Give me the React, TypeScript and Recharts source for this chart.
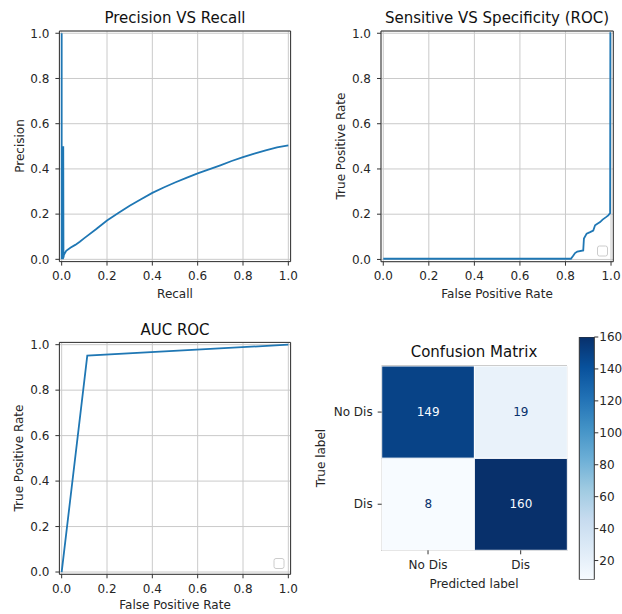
import React from "react";
import {
  LineChart,
  Line,
  XAxis,
  YAxis,
  CartesianGrid,
  ReferenceArea,
  BarChart,
  Bar,
  Cell,
  LabelList,
} from "recharts";

const FONT = "'DejaVu Sans', sans-serif";
const BLUE = "#1f77b4";
const TEXT = "#262626";
const SPINE = "#333333";
const GRID = "#cacaca";

const unitTicks = [0, 0.2, 0.4, 0.6, 0.8, 1.0];

// precision vs recall (spike near recall=0, then the rising curve)
const prRecall = [
  0, 0, 0.001, 0.002, 0.003, 0.004, 0.005, 0.006, 0.007, 0.008, 0.01, 0.02, 0.04, 0.06, 0.08, 0.1, 0.15, 0.2, 0.25,
  0.3, 0.35, 0.4, 0.45, 0.5, 0.55, 0.6, 0.65, 0.7, 0.75, 0.8, 0.85, 0.9, 0.95, 1.0,
];
const prPrecision = [
  1.0, 0.0, 0.5, 0.0, 0.5, 0.0, 0.5, 0.0, 0.5, 0.008, 0.02, 0.038, 0.052, 0.064, 0.078, 0.094, 0.132, 0.172, 0.205,
  0.237, 0.266, 0.294, 0.318, 0.34, 0.36, 0.38, 0.398, 0.416, 0.435, 0.452, 0.468, 0.482, 0.495, 0.504,
];

// sensitivity vs specificity
const rocFpr = [
  0, 0.824, 0.833, 0.842, 0.852, 0.878, 0.881, 0.893, 0.908, 0.922, 0.93, 0.94, 0.952, 0.963, 0.978, 0.988, 0.996,
  0.997, 1.0,
];
const rocTpr = [
  0.003, 0.003, 0.015, 0.028, 0.035, 0.04, 0.092, 0.114, 0.121, 0.128, 0.151, 0.158, 0.165, 0.176, 0.187, 0.195,
  0.205, 1.0, 1.0,
];

// auc roc
const aucFpr = [0, 0.113, 1.0];
const aucTpr = [0, 0.952, 1.0];

// confusion matrix
const cmLabels = ["No Dis", "Dis"];
const cmValues = [
  [149, 19],
  [8, 160],
];
const cbarTicks = [20, 40, 60, 80, 100, 120, 140, 160];

const cmMin = Math.min(...cmValues.flat());
const cmMax = Math.max(...cmValues.flat());

// matplotlib "Blues"
const bluesStops = ["#f7fbff", "#deebf7", "#c6dbef", "#9ecae1", "#6baed6", "#4292c6", "#2171b5", "#08519c", "#08306b"];

function hexToRgb(h: string) {
  return [parseInt(h.slice(1, 3), 16), parseInt(h.slice(3, 5), 16), parseInt(h.slice(5, 7), 16)];
}

function blues(t: number) {
  const c = Math.max(0, Math.min(1, t)) * (bluesStops.length - 1);
  const i = Math.min(Math.floor(c), bluesStops.length - 2);
  const f = c - i;
  const a = hexToRgb(bluesStops[i]);
  const b = hexToRgb(bluesStops[i + 1]);
  const rgb = a.map((v, k) => Math.round(v + (b[k] - v) * f));
  return `rgb(${rgb[0]},${rgb[1]},${rgb[2]})`;
}

const cmColor = (v: number) => blues((v - cmMin) / (cmMax - cmMin));
const cmTextColor = (v: number) => (v > (cmMin + cmMax) / 2 ? bluesStops[0] : bluesStops[bluesStops.length - 1]);

const zip = (xs: number[], ys: number[]) => xs.map((x, i) => ({ x, y: ys[i] }));

const tickStyle = { fill: TEXT, fontSize: 12, fontFamily: FONT };

function CurvePanel(props: {
  data: { x: number; y: number }[];
  left: number;
  top: number;
  margin: { top: number; right: number; bottom: number; left: number };
}) {
  return (
    <div style={{ position: "absolute", left: props.left, top: props.top }}>
      <LineChart width={311} height={307} data={props.data} margin={props.margin}>
        <CartesianGrid stroke={GRID} strokeWidth={1} />
        <XAxis
          type="number"
          dataKey="x"
          domain={[-0.01, 1.01]}
          ticks={unitTicks}
          interval={0}
          allowDataOverflow
          tickFormatter={(v) => Number(v).toFixed(1)}
          axisLine={false}
          tickLine={{ stroke: SPINE }}
          tickSize={4}
          tickMargin={6}
          height={30}
          tick={tickStyle}
        />
        <YAxis
          type="number"
          domain={[-0.01, 1.01]}
          ticks={unitTicks}
          interval={0}
          allowDataOverflow
          tickFormatter={(v) => Number(v).toFixed(1)}
          axisLine={false}
          tickLine={{ stroke: SPINE }}
          tickSize={4}
          tickMargin={6}
          width={40}
          tick={tickStyle}
        />
        <Line
          type="linear"
          dataKey="y"
          stroke={BLUE}
          strokeWidth={1.8}
          dot={false}
          activeDot={false}
          isAnimationActive={false}
        />
        <ReferenceArea
          x1={-0.01}
          x2={1.01}
          y1={-0.01}
          y2={1.01}
          ifOverflow="visible"
          fill="none"
          fillOpacity={0}
          stroke={SPINE}
          strokeWidth={1}
        />
      </LineChart>
    </div>
  );
}

function ConfusionPanel() {
  const data = cmLabels.map((col, j) => ({
    col,
    dis: 1,
    noDis: 1,
    vDis: cmValues[1][j],
    vNoDis: cmValues[0][j],
  }));
  const cellText = (p: any) => (
    <text
      x={p.x + p.width / 2}
      y={p.y + p.height / 2}
      textAnchor="middle"
      dominantBaseline="central"
      fill={cmTextColor(p.value)}
      fontSize={12}
      fontFamily={FONT}
    >
      {p.value}
    </text>
  );
  return (
    <div style={{ position: "absolute", left: 311, top: 307 }}>
      <BarChart
        width={311}
        height={307}
        data={data}
        margin={{ top: 59, right: 55, bottom: 33.7, left: 0.7 }}
        barCategoryGap={0}
        barGap={0}
      >
        <XAxis
          dataKey="col"
          type="category"
          axisLine={false}
          tickLine={{ stroke: SPINE }}
          tickSize={4}
          tickMargin={6}
          height={30}
          tick={tickStyle}
          interval={0}
        />
        <YAxis
          type="number"
          domain={[0, 2]}
          ticks={[0.5, 1.5]}
          interval={0}
          tickFormatter={(v) => (v < 1 ? cmLabels[1] : cmLabels[0])}
          axisLine={false}
          tickLine={{ stroke: SPINE }}
          tickSize={4}
          tickMargin={5}
          width={70}
          tick={tickStyle}
        />
        <Bar dataKey="dis" stackId="cm" stroke="#ffffff" strokeWidth={1} isAnimationActive={false}>
          {data.map((d, i) => (
            <Cell key={i} fill={cmColor(d.vDis)} />
          ))}
          <LabelList dataKey="vDis" content={cellText} />
        </Bar>
        <Bar dataKey="noDis" stackId="cm" stroke="#ffffff" strokeWidth={1} isAnimationActive={false}>
          {data.map((d, i) => (
            <Cell key={i} fill={cmColor(d.vNoDis)} />
          ))}
          <LabelList dataKey="vNoDis" content={cellText} />
        </Bar>
        <ReferenceArea
          x1={cmLabels[0]}
          x2={cmLabels[1]}
          y1={0}
          y2={2}
          ifOverflow="visible"
          fill="none"
          fillOpacity={0}
          stroke={SPINE}
          strokeWidth={1}
        />
      </BarChart>
    </div>
  );
}

function ColorbarPanel() {
  const data = [{ name: "cbar", range: [cmMin, cmMax] }];
  return (
    <div style={{ position: "absolute", left: 570, top: 330 }}>
      <BarChart
        width={52}
        height={260}
        data={data}
        margin={{ top: 7, right: 0.7, bottom: 10.3, left: 9.3 }}
        barCategoryGap={0}
      >
        <defs>
          <linearGradient id="bluesGrad" x1="0" y1="1" x2="0" y2="0">
            {bluesStops.map((c, i) => (
              <stop key={i} offset={`${(i / (bluesStops.length - 1)) * 100}%`} stopColor={c} />
            ))}
          </linearGradient>
        </defs>
        <XAxis type="category" dataKey="name" hide />
        <YAxis
          orientation="right"
          type="number"
          domain={[cmMin, cmMax]}
          ticks={cbarTicks}
          interval={0}
          allowDataOverflow
          axisLine={false}
          tickLine={{ stroke: SPINE }}
          tickSize={4}
          tickMargin={1}
          width={27}
          tick={tickStyle}
        />
        <Bar dataKey="range" fill="url(#bluesGrad)" stroke={SPINE} strokeWidth={1} isAnimationActive={false} />
      </BarChart>
    </div>
  );
}

export default function App() {
  const title = { fontSize: 15, fontFamily: FONT, fill: "#111", textAnchor: "middle" as const };
  const label = { fontSize: 12, fontFamily: FONT, fill: TEXT, textAnchor: "middle" as const };
  return (
    <div
      style={{
        position: "fixed",
        left: 0,
        top: 0,
        width: 622,
        height: 614,
        background: "#ffffff",
        overflow: "hidden",
      }}
    >
      <CurvePanel
        data={zip(prRecall, prPrecision)}
        left={0}
        top={0}
        margin={{ top: 31, right: 20.4, bottom: 15.4, left: 19.4 }}
      />
      <CurvePanel
        data={zip(rocFpr, rocTpr)}
        left={311}
        top={0}
        margin={{ top: 31, right: 8.7, bottom: 15.3, left: 30 }}
      />
      <CurvePanel
        data={zip(aucFpr, aucTpr)}
        left={0}
        top={307}
        margin={{ top: 35.4, right: 20.4, bottom: 9.7, left: 19.4 }}
      />
      <ConfusionPanel />
      <ColorbarPanel />
      <svg
        width={622}
        height={614}
        style={{ position: "absolute", left: 0, top: 0, pointerEvents: "none" }}
      >
        <text x={175} y={23} {...title}>Precision VS Recall</text>
        <text x={175} y={298} {...label}>Recall</text>
        <text transform="translate(24,146) rotate(-90)" {...label}>Precision</text>

        <text x={497} y={23} {...title}>Sensitive VS Specificity (ROC)</text>
        <text x={497} y={298} {...label}>False Positive Rate</text>
        <text transform="translate(345,146) rotate(-90)" {...label}>True Positive Rate</text>
        <rect x={597.5} y={246} width={10} height={10} rx={2} fill="#fff" stroke="#cccccc" />

        <text x={175} y={335} {...title}>AUC ROC</text>
        <text x={175} y={609} {...label}>False Positive Rate</text>
        <text transform="translate(23,458) rotate(-90)" {...label}>True Positive Rate</text>
        <rect x={274} y={558.5} width={10} height={10} rx={2} fill="#fff" stroke="#cccccc" />

        <text x={474} y={357} {...title}>Confusion Matrix</text>
        <text x={474} y={588} {...label}>Predicted label</text>
        <text transform="translate(325,458) rotate(-90)" {...label}>True label</text>
      </svg>
    </div>
  );
}
